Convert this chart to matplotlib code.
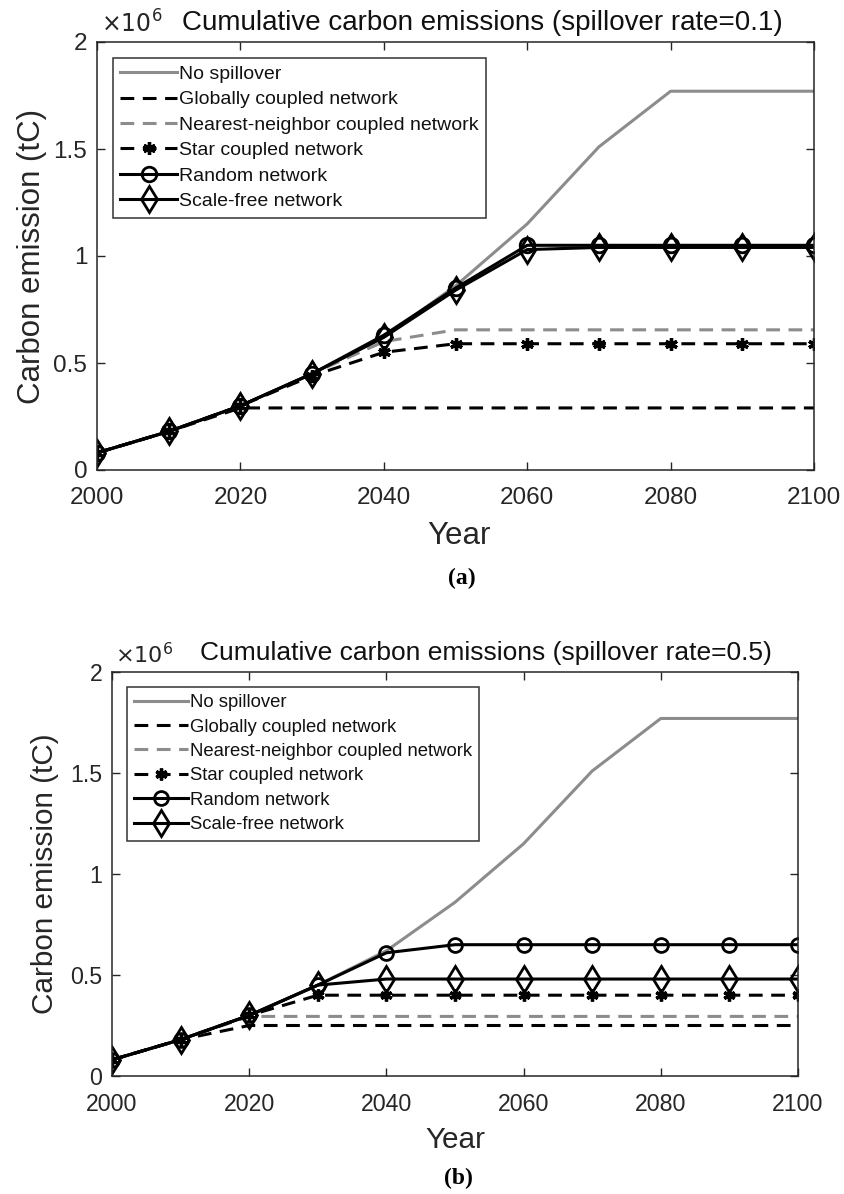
import matplotlib
matplotlib.use("Agg")
import matplotlib.pyplot as plt

plt.rcParams['font.family'] = ['Liberation Sans', 'DejaVu Sans']

# data (units of 1e6 tC)
years = [2000, 2010, 2020, 2030, 2040, 2050, 2060, 2070, 2080, 2090, 2100]
no_spill = [0.08, 0.18, 0.30, 0.45, 0.62, 0.86, 1.15, 1.51, 1.77, 1.77, 1.77]

global_a = [0.08, 0.18, 0.29, 0.29, 0.29, 0.29, 0.29, 0.29, 0.29, 0.29, 0.29]
nn_a = [0.08, 0.18, 0.30, 0.45, 0.60, 0.655, 0.655, 0.655, 0.655, 0.655, 0.655]
star_a = [0.08, 0.18, 0.30, 0.44, 0.55, 0.59, 0.59, 0.59, 0.59, 0.59, 0.59]
random_a = [0.08, 0.18, 0.30, 0.45, 0.63, 0.85, 1.05, 1.05, 1.05, 1.05, 1.05]
sf_a = [0.08, 0.18, 0.30, 0.45, 0.62, 0.84, 1.03, 1.04, 1.04, 1.04, 1.04]

global_b = [0.08, 0.18, 0.25, 0.25, 0.25, 0.25, 0.25, 0.25, 0.25, 0.25, 0.25]
nn_b = [0.08, 0.18, 0.295, 0.295, 0.295, 0.295, 0.295, 0.295, 0.295, 0.295, 0.295]
star_b = [0.08, 0.18, 0.30, 0.40, 0.40, 0.40, 0.40, 0.40, 0.40, 0.40, 0.40]
random_b = [0.08, 0.18, 0.30, 0.45, 0.61, 0.65, 0.65, 0.65, 0.65, 0.65, 0.65]
sf_b = [0.08, 0.18, 0.30, 0.45, 0.48, 0.48, 0.48, 0.48, 0.48, 0.48, 0.48]

labels = ["No spillover", "Globally coupled network", "Nearest-neighbor coupled network",
          "Star coupled network", "Random network", "Scale-free network"]
xticks = [2000, 2020, 2040, 2060, 2080, 2100]
yticks = [0, 0.5, 1, 1.5, 2]
ytick_labels = ["0", "0.5", "1", "1.5", "2"]

W, H = 845, 1194
fig = plt.figure(figsize=(W / 100, H / 100), dpi=100)

def px_axes(l, t, r, b):
    return fig.add_axes([l / W, 1 - b / H, (r - l) / W, (b - t) / H])

def panel(ax, series, rate, s, title_x):
    gray = '0.55'
    lw = 2.2
    dash = (0, (4.5, 2.8))
    ax.plot(years, no_spill, color=gray, lw=lw, label=labels[0])
    ax.plot(years, series[0], color='k', lw=lw, ls=dash, label=labels[1])
    ax.plot(years, series[1], color=gray, lw=lw, ls=dash, label=labels[2])
    ax.plot(years, series[2], color='k', lw=lw, ls=dash, marker=(6, 2, 0),
            ms=9 * s, mew=2.4, label=labels[3])
    ax.plot(years, series[3], color='k', lw=lw, marker='o', ms=10.5 * s,
            mfc='none', mew=2.0, label=labels[4])
    ax.plot(years, series[4], color='k', lw=lw, marker='d', ms=13.5 * s,
            mfc='none', mew=2.0, label=labels[5])
    ax.set_xlim(2000, 2100)
    ax.set_ylim(0, 2)
    ax.set_xticks(xticks)
    ax.set_yticks(yticks)
    ax.set_yticklabels(ytick_labels)
    ax.tick_params(direction='in', length=6, width=1, top=True, right=True,
                   labelsize=17.5 * s, colors='#262626')
    ax.tick_params(axis='x', pad=12)
    ax.tick_params(axis='y', pad=7)
    for sp in ax.spines.values():
        sp.set_color('#262626')
        sp.set_linewidth(1.1)
    ax.set_title("Cumulative carbon emissions (spillover rate=%s)" % rate,
                 fontsize=20 * s, x=title_x, pad=9, color='#111111')
    ax.text(0.005, 1.01, r"$\times10^6$", transform=ax.transAxes,
            fontsize=17 * s, color='#262626', ha='left', va='bottom')
    ax.set_xlabel("Year", fontsize=22.5 * s, color='#262626')
    ax.set_ylabel("Carbon emission (tC)", fontsize=22.5 * s, color='#262626')
    leg = ax.legend(loc='upper left', fontsize=14 * s, frameon=True, fancybox=False,
                    edgecolor='k', handlelength=2.9, handletextpad=0.1,
                    labelspacing=0.4, borderaxespad=0.8, borderpad=0.4)
    leg.get_frame().set_linewidth(1.1)
    for t in leg.get_texts():
        t.set_color('#111111')
    return ax

ax1 = px_axes(97, 42, 814, 470)
panel(ax1, [global_a, nn_a, star_a, random_a, sf_a], "0.1", 1.0, 0.538)
ax1.xaxis.set_label_coords(0.505, (470 - 536) / 428)
ax1.xaxis.label.set_va('center')
ax1.yaxis.set_label_coords((32 - 97) / 717, 0.5)
ax1.yaxis.label.set_va('center')
fig.text(462 / W, 1 - 578 / H, "(a)", fontsize=17, fontweight='bold',
         family=['Liberation Serif', 'DejaVu Serif'], ha='center', va='center')

ax2 = px_axes(112, 672, 798, 1076)
panel(ax2, [global_b, nn_b, star_b, random_b, sf_b], "0.5", 0.95, 0.545)
ax2.xaxis.set_label_coords(0.5, (1076 - 1140) / 404)
ax2.xaxis.label.set_va('center')
ax2.yaxis.set_label_coords((45 - 112) / 686, 0.5)
ax2.yaxis.label.set_va('center')
fig.text(458 / W, 1 - 1178 / H, "(b)", fontsize=17, fontweight='bold',
         family=['Liberation Serif', 'DejaVu Serif'], ha='center', va='center')

fig.savefig("out.png", dpi=100)
